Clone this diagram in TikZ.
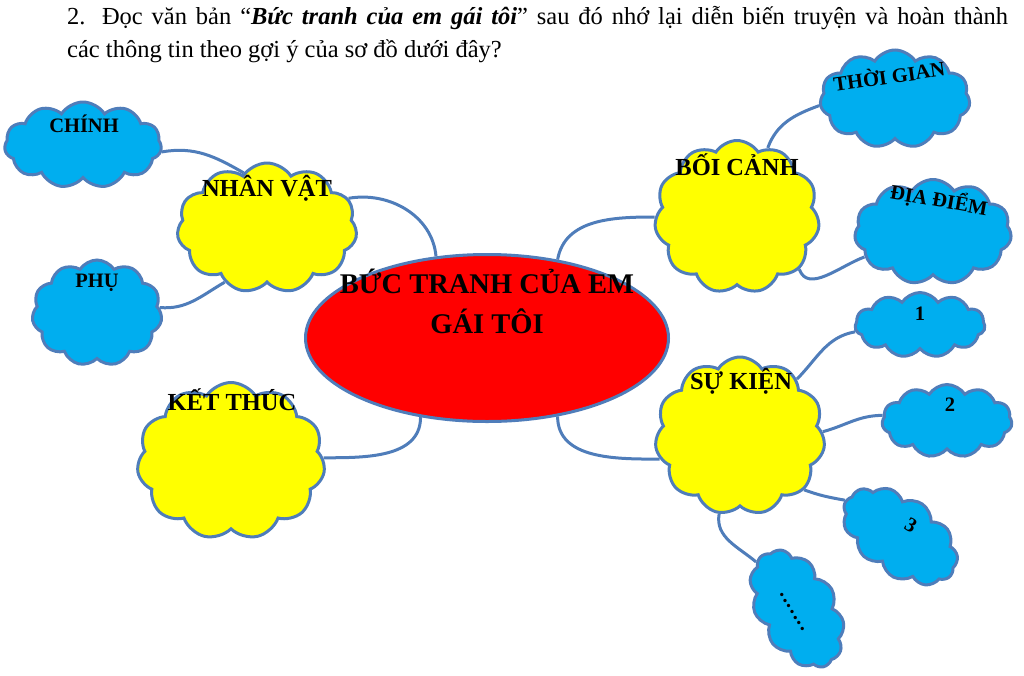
\documentclass[tikz,border=0pt]{standalone}
\usepackage{fontspec}
\setmainfont{Liberation Serif}
\usetikzlibrary{shapes.symbols,shapes.geometric}
\definecolor{edgeblue}{HTML}{4F7DBA}
\definecolor{skyfill}{HTML}{00AEEF}
\definecolor{yelfill}{HTML}{FFFF00}
\definecolor{redfill}{HTML}{FF0000}
\tikzset{
  puff/.style={cloud, cloud puffs=11, cloud puff arc=115, cloud ignores aspect,
    draw=edgeblue, line width=3pt, inner sep=0pt},
  bluecloud/.style={puff, fill=skyfill},
  yelcloud/.style={puff, fill=yelfill},
  conn/.style={draw=edgeblue, line width=3pt},
  biglbl/.style={font=\bfseries\fontsize{24.5}{28}\selectfont, inner sep=0pt},
  smalllbl/.style={font=\bfseries\fontsize{20.5}{24}\selectfont, inner sep=0pt},
  titletxt/.style={font=\fontsize{24.5}{30}\selectfont, inner sep=0pt, anchor=base west}
}
\begin{document}
\begin{tikzpicture}[x=1pt,y=-1pt]
\useasboundingbox (0,0) rectangle (1024,675);
% title
\node[titletxt] (t1) at (67,24) {\makebox[941pt][s]{2. Đọc văn bản “\textbf{\textit{Bức tranh của em gái tôi}}” sau đó nhớ lại diễn biến truyện và hoàn thành}};
\node[titletxt] (t2) at (67,57) {các thông tin theo gợi ý của sơ đồ dưới đây?};
% clouds
\node[bluecloud, minimum width=157pt, minimum height=86pt] (chinh) at (83,145) {};
\node[bluecloud, minimum width=130pt, minimum height=106pt] (phu) at (97,313) {};
\node[yelcloud, minimum width=180pt, minimum height=130pt] (nv) at (267,228) {};
\node[yelcloud, minimum width=188pt, minimum height=157pt] (kt) at (231,461) {};
\node[ellipse, draw=edgeblue, line width=3pt, fill=redfill, minimum width=363pt, minimum height=167pt, inner sep=0pt] (main) at (487,338) {};
\node[yelcloud, minimum width=165pt, minimum height=153pt] (bc) at (737,217) {};
\node[bluecloud, minimum width=150pt, minimum height=98pt] (tg) at (895,99) {};
\node[bluecloud, minimum width=157pt, minimum height=105pt] (dd) at (933,232) {};
\node[yelcloud, minimum width=170pt, minimum height=158pt] (sk) at (740,436) {};
\node[bluecloud, minimum width=130pt, minimum height=65pt] (e1) at (920,325) {};
\node[bluecloud, minimum width=130pt, minimum height=73pt] (e2) at (947,421) {};
\node[bluecloud, minimum width=129pt, minimum height=78pt, rotate=-35] (e3) at (900,536) {};
\node[bluecloud, minimum width=128pt, minimum height=80pt, rotate=-60] (e4) at (797,609) {};
% connectors
\draw[conn] (chinh.-5) to[out=10,in=150] (nv.113);
\draw[conn] (phu.5) to[out=-5,in=-150] (nv.-128);
\draw[conn] (nv.20) to[out=10,in=95] (main.122);
\draw[conn] (kt.2) to[out=0,in=-90] (main.-130);
\draw[conn] (main.48) to[out=80,in=180] (bc.180);
\draw[conn] (bc.66) to[out=70,in=200] (tg.185);
\draw[conn] (bc.-40) to[out=-70,in=200] (dd.200);
\draw[conn] (main.-48) to[out=-90,in=180] (sk.196);
\draw[conn] (sk.45) to[out=45,in=190] (e1.186);
\draw[conn] (sk.3) to[out=15,in=180] (e2.175);
\draw[conn] (sk.-40) to[out=-20,in=170] (e3.182);
\draw[conn] (sk.-105) to[out=-100,in=140] (e4.191);
% labels
\node[smalllbl] (lchinh) at (84,124) {CHÍNH};
\node[smalllbl] (lphu) at (97,283) {PHỤ};
\node[biglbl] (lnv) at (267,188) {NHÂN VẬT};
\node[biglbl] (lkt) at (232,400) {KẾT THÚC};
\node[font=\bfseries\fontsize{28.5}{40}\selectfont, align=center, inner sep=0pt] (lmain) at (487,301) {BỨC TRANH CỦA EM\\GÁI TÔI};
\node[biglbl] (lbc) at (737,165) {BỐI CẢNH};
\node[smalllbl, rotate=8] (ltg) at (889,75) {THỜI GIAN};
\node[smalllbl, rotate=-10] (ldd) at (939,200) {ĐỊA ĐIỂM};
\node[biglbl] (lsk) at (741,381) {SỰ KIỆN};
\node[smalllbl] (l1) at (920,314) {1};
\node[smalllbl] (l2) at (950,405) {2};
\node[smalllbl, rotate=-30] (l3) at (911,525) {3};
\node[smalllbl, rotate=-59] (l4) at (792,612) {.\kern1.5pt.\kern1.5pt.\kern1.5pt.\kern1.5pt.\kern1.5pt.\kern1.5pt.};
\end{tikzpicture}
\end{document}
